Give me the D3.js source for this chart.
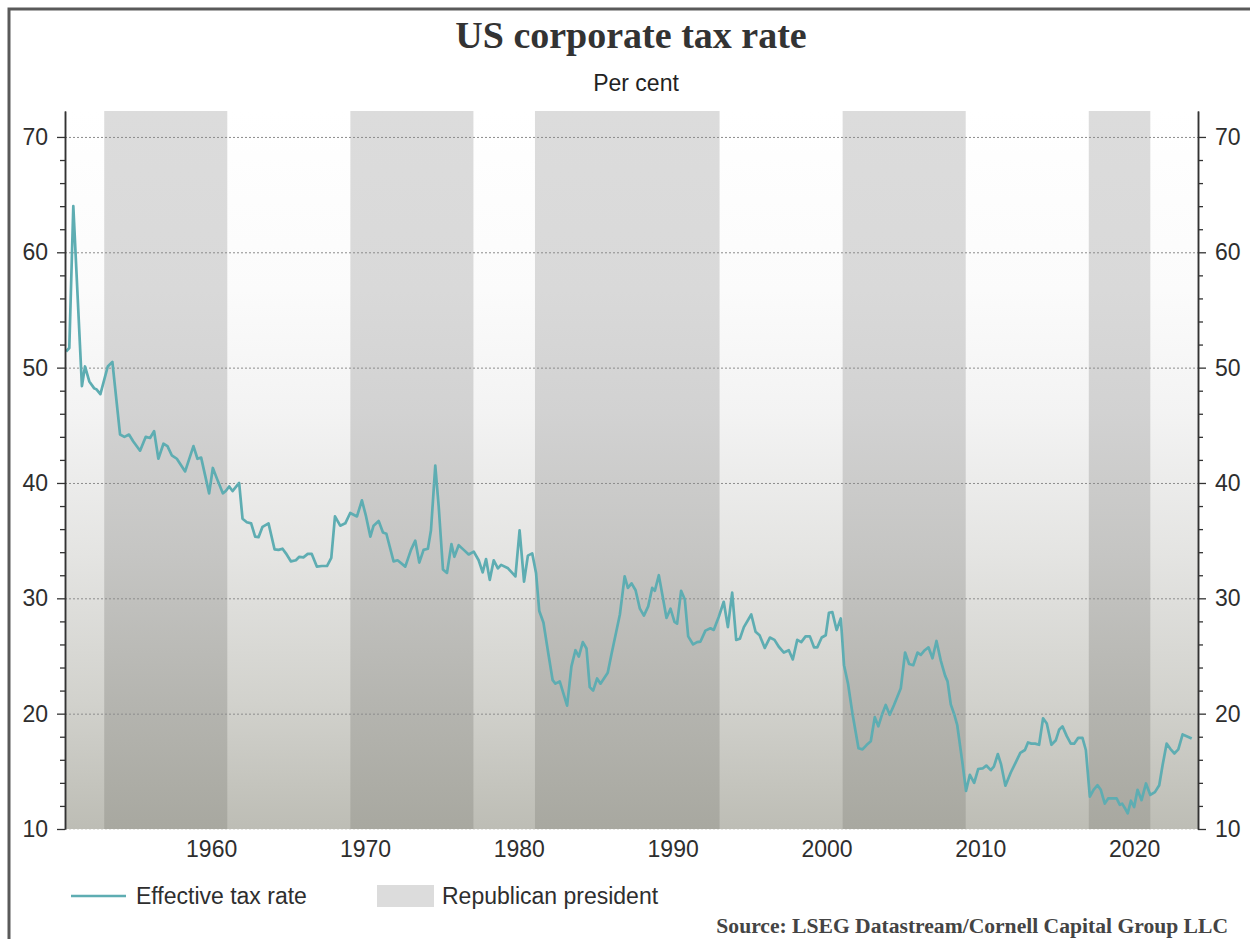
<!DOCTYPE html>
<html>
<head>
<meta charset="utf-8">
<script src="https://cdn.jsdelivr.net/npm/d3@7"></script>
<style>
  html, body { margin: 0; padding: 0; background: #ffffff; }
  svg { display: block; }
</style>
</head>
<body>
<svg id="chart" width="1250" height="939"></svg>
<script>
// ---------- DATA ----------
const title = "US corporate tax rate";
const subtitle = "Per cent";
const sourceText = "Source: LSEG Datastream/Cornell Capital Group LLC";
const seriesName = "Effective tax rate";
const bandName = "Republican president";

// Decimal years of observations
const dates = [
  1950.57,1950.78,1951.04,1951.6,1951.8,1952.08,1952.4,1952.56,1952.8,1953.28,1953.58,
  1954.08,1954.36,1954.66,1954.94,1955.38,1955.75,1956.03,1956.29,1956.57,1956.9,
  1957.16,1957.44,1957.77,1958.31,1958.85,1959.11,1959.35,1959.87,1960.11,1960.37,
  1960.76,1960.95,1961.17,1961.39,1961.82,1962.04,1962.32,1962.6,1962.86,1963.08,
  1963.34,1963.73,1964.12,1964.38,1964.64,1964.86,1965.19,1965.51,1965.73,1966.0,
  1966.28,1966.54,1966.87,1967.2,1967.53,1967.81,1968.05,1968.39,1968.72,1969.04,
  1969.48,1969.8,1970.07,1970.35,1970.56,1970.89,1971.17,1971.39,1971.86,1972.12,
  1972.62,1972.99,1973.27,1973.53,1973.81,1974.09,1974.29,1974.57,1974.79,1975.07,
  1975.33,1975.62,1975.81,1976.09,1976.42,1976.74,1977.07,1977.39,1977.65,1977.87,
  1978.11,1978.37,1978.64,1978.85,1979.3,1979.78,1980.05,1980.34,1980.59,1980.87,
  1981.12,1981.33,1981.6,1981.92,1982.2,1982.38,1982.66,1983.14,1983.42,1983.68,
  1983.9,1984.16,1984.4,1984.61,1984.83,1985.09,1985.31,1985.78,1986.03,1986.57,
  1986.88,1987.09,1987.33,1987.59,1987.87,1988.13,1988.41,1988.67,1988.84,1989.1,
  1989.36,1989.6,1989.86,1990.12,1990.29,1990.55,1990.79,1991.01,1991.33,1991.59,
  1991.81,1992.13,1992.46,1992.67,1993.0,1993.32,1993.59,1993.87,1994.13,1994.37,
  1994.63,1995.11,1995.39,1995.65,1995.99,1996.32,1996.62,1996.9,1997.23,1997.55,
  1997.81,1998.1,1998.36,1998.64,1998.92,1999.19,1999.4,1999.69,1999.95,2000.16,
  2000.38,2000.66,2000.93,2001.14,2001.4,2001.69,2002.08,2002.34,2002.62,2002.88,
  2003.14,2003.37,2003.63,2003.85,2004.11,2004.39,2004.83,2005.11,2005.37,2005.64,
  2005.92,2006.13,2006.39,2006.63,2006.89,2007.15,2007.43,2007.71,2007.87,2008.08,
  2008.3,2008.5,2008.83,2009.07,2009.32,2009.6,2009.86,2010.15,2010.39,2010.68,
  2010.88,2011.14,2011.35,2011.63,2011.98,2012.31,2012.6,2012.9,2013.1,2013.32,
  2013.56,2013.82,2014.08,2014.32,2014.62,2014.91,2015.12,2015.34,2015.62,2015.88,
  2016.1,2016.36,2016.64,2016.86,2017.12,2017.36,2017.62,2017.83,2018.09,2018.31,
  2018.55,2018.86,2019.07,2019.22,2019.4,2019.58,2019.79,2020.0,2020.22,2020.48,
  2020.77,2021.05,2021.35,2021.63,2021.85,2022.11,2022.35,2022.61,2022.87,2023.15,
  2023.41,2023.74
];

// Effective tax rate, per cent
const rates = [
  51.4,51.7,64.0,48.4,50.1,48.8,48.2,48.1,47.7,50.1,50.5,
  44.2,44.0,44.2,43.6,42.8,44.0,43.9,44.5,42.1,43.4,
  43.2,42.4,42.1,41.0,43.2,42.1,42.2,39.1,41.3,40.4,
  39.1,39.3,39.7,39.3,40.0,36.9,36.6,36.5,35.35,35.3,
  36.2,36.5,34.25,34.2,34.3,33.9,33.2,33.3,33.6,33.55,
  33.85,33.85,32.75,32.8,32.8,33.5,37.1,36.3,36.5,37.4,
  37.1,38.5,37.1,35.35,36.3,36.7,35.7,35.6,33.2,33.3,
  32.75,34.2,35.0,33.1,34.2,34.3,35.9,41.5,38.0,32.5,
  32.2,34.7,33.6,34.6,34.2,33.8,34.05,33.3,32.25,33.4,
  31.6,33.3,32.6,32.9,32.6,31.9,35.9,31.45,33.7,33.9,
  32.2,28.9,27.9,25.2,22.9,22.6,22.8,20.7,24.1,25.5,
  24.95,26.2,25.65,22.3,22.0,23.05,22.6,23.55,25.2,28.6,
  31.9,30.9,31.3,30.7,29.1,28.5,29.3,30.9,30.65,32.0,
  30.1,28.3,29.1,27.95,27.8,30.65,29.9,26.7,26.0,26.2,
  26.25,27.2,27.4,27.26,28.4,29.7,27.5,30.5,26.4,26.5,
  27.5,28.6,27.1,26.8,25.7,26.6,26.4,25.8,25.3,25.5,
  24.7,26.4,26.2,26.7,26.7,25.75,25.75,26.6,26.8,28.75,
  28.8,27.25,28.25,24.2,22.6,20.0,17.0,16.9,17.3,17.6,
  19.7,18.9,20.0,20.75,19.9,20.75,22.2,25.3,24.3,24.2,
  25.3,25.1,25.5,25.75,24.8,26.3,24.6,23.3,22.8,20.8,
  19.95,19.0,15.8,13.3,14.7,14.0,15.2,15.25,15.5,15.1,
  15.4,16.5,15.6,13.75,14.9,15.8,16.6,16.85,17.5,17.4,
  17.4,17.3,19.6,19.15,17.3,17.7,18.6,18.9,18.05,17.4,
  17.4,17.9,17.9,16.85,12.8,13.4,13.8,13.4,12.2,12.65,
  12.65,12.65,12.1,12.2,11.8,11.35,12.45,11.9,13.4,12.5,
  13.95,12.95,13.2,13.8,15.55,17.4,16.95,16.55,16.9,18.2,
  18.05,17.85
];

// Republican presidencies (inauguration dates as decimal years)
const repStart = [1953.05, 1969.05, 1981.05, 2001.05, 2017.05];
const repEnd   = [1961.05, 1977.05, 1993.05, 2009.05, 2021.05];

const xTickYears = [1960, 1970, 1980, 1990, 2000, 2010, 2020];
const yMajorTicks = [10, 20, 30, 40, 50, 60, 70];
const yMinorTicks = [12,14,16,18,22,24,26,28,32,34,36,38,42,44,46,48,52,54,56,58,62,64,66,68];
const xDomain = [1950.5, 2024.15];
const yDomain = [10, 72.25];

// ---------- LAYOUT ----------
const W = 1250, H = 939;
const plot = { left: 65, right: 1198, top: 111, bottom: 829 };
const lineColor = "#5eadb2";
const textColor = "#2e2e2e";
const sansFont = "'Liberation Sans', Arial, sans-serif";
const serifFont = "'Liberation Serif', 'Times New Roman', serif";

const svg = d3.select("#chart");

// outer frame
svg.append("rect")
  .attr("x", 9).attr("y", 9)
  .attr("width", W + 20).attr("height", H + 20)
  .attr("fill", "#ffffff")
  .attr("stroke", "#5a5a5a")
  .attr("stroke-width", 3);

const x = d3.scaleLinear().domain(xDomain).range([plot.left, plot.right]);
const y = d3.scaleLinear().domain(yDomain).range([plot.bottom, plot.top]);

// gradient defs
const defs = svg.append("defs");
const bg = defs.append("linearGradient").attr("id", "bgGrad")
  .attr("x1", 0).attr("y1", 0).attr("x2", 0).attr("y2", 1);
[["0%", "#ffffff"], ["25%", "#fbfbfb"], ["42%", "#f3f3f3"], ["62%", "#e4e4e2"],
 ["82%", "#d2d2cd"], ["100%", "#bdbdb5"]].forEach(([o, c]) =>
  bg.append("stop").attr("offset", o).attr("stop-color", c));

const bandGrad = defs.append("linearGradient").attr("id", "bandGrad")
  .attr("x1", 0).attr("y1", 0).attr("x2", 0).attr("y2", 1);
[["0%", "#dcdcdc"], ["25%", "#d9d9d9"], ["42%", "#d2d2d2"], ["62%", "#c5c5c3"],
 ["82%", "#b5b5b0"], ["100%", "#a8a8a0"]].forEach(([o, c]) =>
  bandGrad.append("stop").attr("offset", o).attr("stop-color", c));

// plot background
svg.append("rect")
  .attr("x", plot.left).attr("y", plot.top)
  .attr("width", plot.right - plot.left).attr("height", plot.bottom - plot.top)
  .attr("fill", "url(#bgGrad)");

// Republican bands
const bands = repStart.map((s, i) => ({ s, e: repEnd[i] }));
svg.append("g").selectAll("rect").data(bands).join("rect")
  .attr("x", d => x(d.s))
  .attr("y", plot.top)
  .attr("width", d => x(d.e) - x(d.s))
  .attr("height", plot.bottom - plot.top)
  .attr("fill", "url(#bandGrad)");

// gridlines
svg.append("g").selectAll("line").data(yMajorTicks).join("line")
  .attr("x1", plot.left).attr("x2", plot.right)
  .attr("y1", d => y(d) + 0.5).attr("y2", d => y(d) + 0.5)
  .attr("stroke", d => d === 10 ? "#e6e6e2" : "#8c8c8c")
  .attr("stroke-width", 1)
  .attr("stroke-dasharray", "2,2");

// line
const pts = dates.map((d, i) => [d, rates[i]]);
svg.append("path")
  .datum(pts)
  .attr("fill", "none")
  .attr("stroke", lineColor)
  .attr("stroke-width", 2.7)
  .attr("stroke-linejoin", "round")
  .attr("d", d3.line().x(d => x(d[0])).y(d => y(d[1])));

// axes
function styleAxis(g) {
  g.selectAll("path.domain").attr("stroke", "#333").attr("stroke-width", 1.5);
  g.selectAll(".tick line").attr("stroke", "#333").attr("stroke-width", 1.3);
  g.selectAll(".tick text")
    .attr("fill", textColor)
    .style("font-family", sansFont)
    .style("font-size", "23px");
}

// left
const leftMinor = svg.append("g")
  .attr("transform", `translate(${plot.left},0)`)
  .call(d3.axisLeft(y).tickValues(yMinorTicks).tickSize(5).tickSizeOuter(0).tickFormat(""));
styleAxis(leftMinor);
const leftMajor = svg.append("g")
  .attr("transform", `translate(${plot.left},0)`)
  .call(d3.axisLeft(y).tickValues(yMajorTicks).tickSize(8).tickSizeOuter(0).tickPadding(9).tickFormat(d3.format("d")));
styleAxis(leftMajor);

// right
const rightMinor = svg.append("g")
  .attr("transform", `translate(${plot.right},0)`)
  .call(d3.axisRight(y).tickValues(yMinorTicks).tickSize(5).tickSizeOuter(0).tickFormat(""));
styleAxis(rightMinor);
const rightMajor = svg.append("g")
  .attr("transform", `translate(${plot.right},0)`)
  .call(d3.axisRight(y).tickValues(yMajorTicks).tickSize(8).tickSizeOuter(0).tickPadding(9).tickFormat(d3.format("d")));
styleAxis(rightMajor);

// bottom
const bottom = svg.append("g")
  .attr("transform", `translate(0,${plot.bottom})`)
  .call(d3.axisBottom(x).tickValues(xTickYears).tickSize(0).tickPadding(12).tickFormat(d3.format("d")));
styleAxis(bottom);
bottom.select("path.domain").remove();

// title & subtitle
svg.append("text")
  .attr("x", 631).attr("y", 48)
  .attr("text-anchor", "middle")
  .attr("fill", "#333")
  .style("font-family", serifFont)
  .style("font-weight", "bold")
  .style("font-size", "38px")
  .text(title);

svg.append("text")
  .attr("x", 636).attr("y", 91)
  .attr("text-anchor", "middle")
  .attr("fill", "#222")
  .style("font-family", sansFont)
  .style("font-size", "23px")
  .text(subtitle);

// legend
const legY = 896;
svg.append("line")
  .attr("x1", 71).attr("x2", 126)
  .attr("y1", legY).attr("y2", legY)
  .attr("stroke", lineColor).attr("stroke-width", 2.6);
svg.append("text")
  .attr("x", 136).attr("y", legY + 8)
  .attr("fill", textColor)
  .style("font-family", sansFont).style("font-size", "23px")
  .text(seriesName);
svg.append("rect")
  .attr("x", 377).attr("y", legY - 11)
  .attr("width", 57).attr("height", 22)
  .attr("fill", "#dcdcdc");
svg.append("text")
  .attr("x", 442).attr("y", legY + 8)
  .attr("fill", textColor)
  .style("font-family", sansFont).style("font-size", "23px")
  .text(bandName);

// source
svg.append("text")
  .attr("x", 1228).attr("y", 933)
  .attr("text-anchor", "end")
  .attr("fill", "#444")
  .style("font-family", serifFont)
  .style("font-weight", "bold")
  .style("font-size", "21.6px")
  .text(sourceText);
</script>
</body>
</html>
